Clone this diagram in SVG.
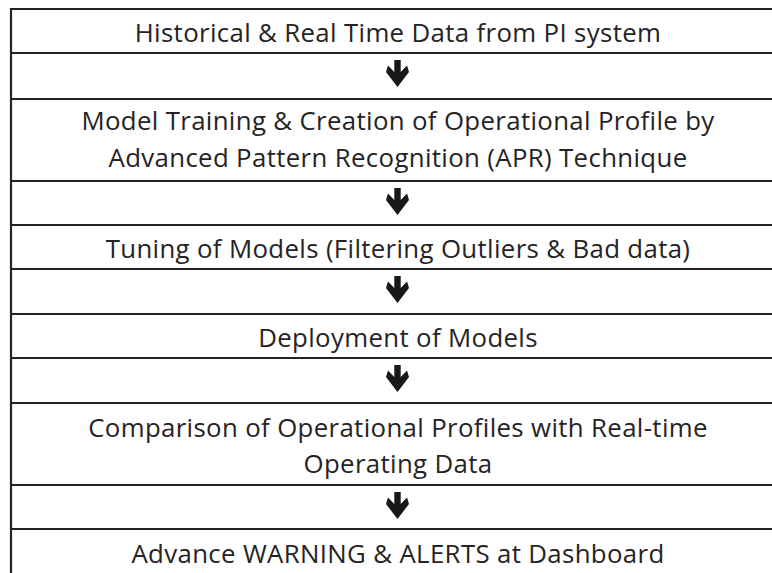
<svg xmlns="http://www.w3.org/2000/svg" width="772" height="573" viewBox="0 0 772 573">
<defs>
<style>
.t{font-family:"Open Sans","Noto Sans","Liberation Sans",sans-serif;font-size:25.8px;letter-spacing:0.35px;fill:#262324;text-anchor:middle}
.ln{stroke:#262324;stroke-width:2.2;fill:none}
.ar{fill:#1a1718}
</style>
<path id="arrow" class="ar" d="M-3.2,0 L3.2,0 L3.2,12 L9.5,5.5 L11.5,12 L0,27 L-11.5,12 L-9.5,5.5 L-3.2,12 Z"/>
</defs>
<rect x="0" y="0" width="772" height="573" fill="#ffffff"/>
<g id="frame">
<line class="ln" x1="11" y1="8" x2="11" y2="573"/>
<line class="ln" x1="10" y1="9" x2="772" y2="9"/>
<line class="ln" x1="10" y1="53" x2="772" y2="53"/>
<line class="ln" x1="10" y1="99" x2="772" y2="99"/>
<line class="ln" x1="10" y1="181" x2="772" y2="181"/>
<line class="ln" x1="10" y1="225" x2="772" y2="225"/>
<line class="ln" x1="10" y1="269" x2="772" y2="269"/>
<line class="ln" x1="10" y1="314" x2="772" y2="314"/>
<line class="ln" x1="10" y1="358" x2="772" y2="358"/>
<line class="ln" x1="10" y1="403" x2="772" y2="403"/>
<line class="ln" x1="10" y1="485" x2="772" y2="485"/>
<line class="ln" x1="10" y1="529" x2="772" y2="529"/>
</g>
<g id="n1"><text class="t" x="398" y="42">Historical &amp; Real Time Data from PI system</text></g>
<g id="n2"><text class="t" x="398" y="130">Model Training &amp; Creation of Operational Profile by</text><text class="t" x="398" y="167">Advanced Pattern Recognition (APR) Technique</text></g>
<g id="n3"><text class="t" x="398" y="258">Tuning of Models (Filtering Outliers &amp; Bad data)</text></g>
<g id="n4"><text class="t" x="398" y="347">Deployment of Models</text></g>
<g id="n5"><text class="t" x="398" y="437">Comparison of Operational Profiles with Real-time</text><text class="t" x="398" y="473">Operating Data</text></g>
<g id="n6"><text class="t" x="398" y="563">Advance WARNING &amp; ALERTS at Dashboard</text></g>
<g id="connectors">
<use href="#arrow" x="397.5" y="60"/>
<use href="#arrow" x="397.5" y="188"/>
<use href="#arrow" x="397.5" y="276"/>
<use href="#arrow" x="397.5" y="365"/>
<use href="#arrow" x="397.5" y="492"/>
</g>
</svg>
